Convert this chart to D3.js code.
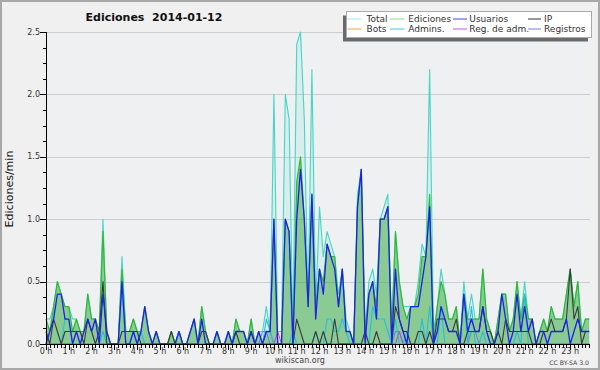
<!DOCTYPE html>
<html><head><meta charset="utf-8">
<script src="https://cdn.jsdelivr.net/npm/d3@7"></script>
<style>body{margin:0;background:#f0f0f0;} svg{display:block;font-family:"DejaVu Sans",sans-serif;}</style>
</head><body><svg id="c" width="600" height="370"></svg>
<script>
const hourLabels = ["0 h","1 h","2 h","3 h","4 h","5 h","6 h","7 h","8 h","9 h","10 h","11 h","12 h","13 h","14 h","15 h","16 h","17 h","18 h","19 h","20 h","21 h","22 h","23 h"];
const yTicks = [0, 0.5, 1, 1.5, 2, 2.5];
const seriesNames = ["Total","Ediciones","Usuarios","IP","Bots","Admins.","Reg. de adm.","Registros"];

// one value per 10 minutes (edits/min)
const total = [
 .2,.2,.3,.5,.4,.3,.3,.2,.2,.1,.1,.4,
 .2,.2,.1,1.0,.1,0,0,0,.7,.1,.1,.2,
 .1,.1,.3,.1,0,.1,0,0,0,.1,0,.1,
 0,0,.1,.2,0,.3,.1,0,0,.1,0,0,
 .1,0,.2,.1,.1,0,.2,0,.1,.1,.3,.1,
 2.0,.1,.1,2.0,1.8,.1,2.4,2.5,1.8,.3,2.2,.3,
 1.1,.7,.9,.8,.7,.4,.6,.2,.1,0,1.2,1.4,
 .1,.5,.6,.4,1.0,1.1,1.2,.1,.9,.5,.3,.3,
 .3,.3,.5,.8,.7,2.2,.1,.3,.6,.4,.2,.2,
 .3,0,.5,.2,.4,.2,.2,.6,.2,.1,0,.2,
 .4,.4,.1,.2,.5,.2,.5,.2,.2,0,.1,.2,
 .1,.3,.2,.2,.2,.4,.6,.3,.5,.1,.2,.2];
const ediciones = [
 .2,.1,.3,.5,.4,.3,.3,.1,.2,.1,.1,.4,
 .2,.2,.1,.9,.1,0,0,0,.6,.1,.1,.2,
 .1,.1,.3,.1,0,.1,0,0,0,.1,0,.1,
 0,0,.1,.2,0,.3,.1,0,0,.1,0,0,
 .1,0,.2,.1,.1,0,.2,0,.1,0,.1,.1,
 1.0,0,0,1.0,.9,0,1.3,1.5,1.0,.3,1.2,.3,
 .6,.5,.8,.7,.7,.3,.6,.1,.1,0,1.1,1.4,
 .1,.4,.5,.3,1.0,1.0,1.1,.1,.9,.5,.3,.2,
 .3,.3,.4,.7,.7,1.2,0,.3,.5,.4,.2,.2,
 .3,0,.4,.2,.2,.2,.2,.6,.2,.1,0,.2,
 .4,.4,.1,.2,.5,.2,.4,.2,.2,0,.1,.2,
 .1,.3,.2,.2,.2,.4,.6,.3,.5,.1,.2,.2];
const usuarios = [
 0,.1,.2,.4,.4,.2,.2,0,.1,0,.1,.2,
 .1,.2,0,.4,.1,0,0,0,.5,0,0,.1,
 0,.1,.3,.1,0,.1,0,0,0,0,0,.1,
 0,0,.1,.2,0,.2,0,0,0,.1,0,0,
 .1,0,.1,.1,.1,0,.1,0,.1,0,.1,.1,
 1.0,0,0,1.0,.9,0,1.0,1.4,1.0,.3,1.2,.2,
 .6,.4,.8,.7,.6,.3,.6,.1,.1,0,1.1,1.4,
 0,.4,.5,.2,1.0,1.0,1.1,0,.6,.2,.1,0,
 .3,.3,.3,.5,.7,1.1,0,.1,.3,.2,.1,.1,
 .1,0,.4,.1,.2,.1,.1,.3,.1,0,0,.1,
 .4,.2,0,.1,.4,.1,.3,.1,.2,0,.1,.1,
 0,.1,.1,.1,.1,.2,0,.1,.2,.1,.1,.1];
const ip = [
 .1,0,.2,.1,0,.1,.1,.1,.1,.1,0,.2,
 .1,0,.1,.5,0,0,0,0,.1,.1,.1,.1,
 .1,0,0,0,0,0,0,0,0,.1,0,0,
 0,0,0,0,0,.1,.1,0,0,0,0,0,
 0,0,.1,0,0,0,.1,0,0,0,0,0,
 0,0,0,0,0,0,.2,.1,0,0,0,.1,
 0,.1,0,0,.2,0,0,0,0,0,0,0,
 .1,0,0,.1,0,0,0,0,.3,.2,.1,.1,
 0,0,.1,.1,0,.1,0,.2,.2,.2,.1,.1,
 .2,0,0,.1,.1,.1,.1,.3,.1,.1,0,.1,
 0,.2,.1,.1,.1,.1,.1,.1,0,0,0,.1,
 .1,.2,.1,.1,.1,.2,.6,.2,.3,0,.1,.1];
const bots = [
 0,0,0,0,0,0,0,0,0,0,0,0,
 0,0,0,0,0,0,0,0,0,0,0,0,
 0,0,0,0,0,0,0,0,0,0,0,0,
 0,0,0,0,0,0,0,0,0,0,0,0,
 0,0,0,0,0,0,0,0,0,0,0,0,
 0,0,0,0,0,0,0,0,0,0,0,0,
 0,0,0,0,0,0,0,0,0,0,0,0,
 0,0,0,0,0,0,0,0,0,0,0,0,
 0,0,0,0,0,0,0,0,0,0,0,0,
 0,0,0,0,0,0,0,0,0,0,0,0,
 0,0,0,0,0,0,0,0,0,0,0,0,
 0,0,0,0,0,0,0,0,0,0,0,0];
const admins = [
 .1,0,0,0,0,.2,.2,0,0,0,0,0,
 0,0,0,.1,0,0,0,0,.5,0,0,.1,
 0,.1,0,0,0,0,0,0,0,0,0,.1,
 0,0,0,0,0,0,0,0,0,0,0,0,
 0,0,0,0,0,0,0,0,0,0,.2,.1,
 0,0,0,0,0,.1,0,0,0,0,0,.1,
 0,0,.2,.2,.1,.1,.2,.1,0,0,0,0,
 0,0,.3,.2,.2,.2,.1,0,.2,0,0,.1,
 0,0,0,.2,0,.3,0,0,.3,0,0,0,
 0,0,.4,0,.3,0,0,.1,0,0,0,0,
 0,0,0,0,.1,0,.4,0,0,0,0,0,
 0,0,0,0,0,0,0,0,0,0,0,0];
const regAdm = [
 0,0,0,0,0,0,0,0,0,0,0,0,
 0,0,0,0,0,0,0,0,0,0,0,0,
 0,0,0,0,0,0,0,0,0,0,0,0,
 0,0,0,0,0,0,0,0,0,0,0,0,
 0,0,0,0,0,0,0,0,0,0,.1,.1,
 0,.1,0,0,0,0,0,0,0,0,0,0,
 0,0,0,0,0,0,0,0,0,0,0,0,
 0,0,0,0,0,0,0,0,0,.1,0,0,
 0,0,0,0,0,0,0,0,0,0,0,0,
 0,0,0,0,0,0,0,0,0,0,0,0,
 0,0,0,0,0,0,0,0,0,0,0,0,
 0,0,0,0,0,0,0,0,0,0,0,0];
const registros = [
 0,0,0,0,0,0,0,0,0,0,0,0,
 0,0,0,0,0,0,0,0,0,0,0,0,
 0,0,0,0,0,0,0,0,0,0,0,0,
 0,0,0,0,0,0,0,0,0,0,0,0,
 0,0,0,0,0,0,0,0,0,.1,.1,0,
 0,0,0,0,0,0,0,0,0,0,0,0,
 0,0,0,0,0,0,0,0,0,0,0,0,
 0,0,0,0,0,0,0,0,.1,.1,0,0,
 0,0,0,0,0,0,0,0,0,0,0,0,
 0,0,0,0,.1,.1,0,0,0,0,0,0,
 0,0,0,0,0,0,0,0,0,0,0,0,
 0,0,0,0,0,0,0,0,0,0,0,0];

const colors = {
  "Total":"#45d6c6","Ediciones":"#33b833","Usuarios":"#2020e8","IP":"#3a3a3a",
  "Bots":"#f39a2e","Admins.":"#25bfdc","Reg. de adm.":"#c840d8","Registros":"#7474f4"
};
const legendColors = {
  "Total":"#a6e6e0","Ediciones":"#8fd68f","Usuarios":"#4545e0","IP":"#333333",
  "Bots":"#f5a040","Admins.":"#40c8e0","Reg. de adm.":"#d050e0","Registros":"#7a7af0"
};

const svg = d3.select("#c");
svg.append("rect").attr("x",1).attr("y",1).attr("width",598).attr("height",368)
  .attr("fill","#f0f0f0").attr("stroke","#a8a8a8").attr("stroke-width",2);
svg.append("rect").attr("x",46).attr("y",32).attr("width",543).attr("height",312).attr("fill","#eef0f2");

const nPts = total.length;
const hx = d3.scaleLinear().domain([0,(nPts-1)/6]).range([46,589.2]);
const x = i => hx(i/6);
const y = d3.scaleLinear().domain([0,2.5]).range([344,32]);

// grid
svg.append("g").selectAll("line").data(yTicks.filter(d=>d>0)).join("line")
  .attr("x1",46).attr("x2",590).attr("y1",d=>Math.round(y(d))+0.5).attr("y2",d=>Math.round(y(d))+0.5)
  .attr("stroke","#cdcdcd").attr("stroke-width",1);

const area = d3.area().x((d,i)=>x(i)).y0(y(0)).y1(d=>y(d));
const line = d3.line().x((d,i)=>x(i)).y(d=>y(d));

svg.append("path").datum(total).attr("d",area).attr("fill","#45d6c6").attr("fill-opacity",0.13);
svg.append("path").datum(ediciones).attr("d",area).attr("fill","#34a534").attr("fill-opacity",0.48);

const draw = [
  ["Bots",bots,1],["Total",total,1.1],["Ediciones",ediciones,1.2],["Registros",registros,1],
  ["Reg. de adm.",regAdm,1],["Admins.",admins,1.1],["IP",ip,1.1],["Usuarios",usuarios,1.3]
];
draw.forEach(([name,vals,w])=>{
  svg.append("path").datum(vals).attr("d",line).attr("fill","none")
    .attr("stroke",colors[name]).attr("stroke-width",w).attr("stroke-linejoin","round");
});

// axes
const ax = svg.append("g").attr("stroke","#000").attr("shape-rendering","crispEdges");
ax.append("line").attr("x1",46.5).attr("x2",46.5).attr("y1",32).attr("y2",344.5);
ax.append("line").attr("x1",46).attr("x2",590).attr("y1",344.5).attr("y2",344.5);
// y ticks
const yMinor = d3.range(0, 2.5001, 0.125);
ax.selectAll(".ym").data(yMinor).join("line")
  .attr("x1",d=> (Math.abs(d*2-Math.round(d*2))<1e-6)?40:43).attr("x2",46)
  .attr("y1",d=>Math.round(y(d))+0.5).attr("y2",d=>Math.round(y(d))+0.5);
svg.append("g").selectAll("text").data(yTicks).join("text")
  .attr("x",40).attr("y",d=>y(d)).attr("dy","0.33em").attr("text-anchor","end")
  .attr("font-size",8).attr("fill","#333").text(d=>d3.format(".1f")(d));
// x ticks
const xMinor = d3.range(nPts);
ax.selectAll(".xm").data(xMinor).join("line")
  .attr("x1",i=>Math.round(x(i))+0.5).attr("x2",i=>Math.round(x(i))+0.5)
  .attr("y1",344.5).attr("y2",i=> i%6===0 ? 350 : 348);
svg.append("g").selectAll("text").data(hourLabels).join("text")
  .attr("x",(d,i)=>hx(i)).attr("y",353.5).attr("text-anchor","middle")
  .attr("font-size",8).attr("fill","#333").text(d=>d);

// titles
svg.append("text").attr("x",154).attr("y",21).attr("text-anchor","middle")
  .attr("font-size",11).attr("font-weight","bold").attr("fill","#111")
  .attr("xml:space","preserve").style("white-space","pre").text("Ediciones  2014-01-12");
svg.append("text").attr("transform","translate(13,189) rotate(-90)").attr("text-anchor","middle")
  .attr("font-size",11).attr("fill","#111").text("Ediciones/min");
svg.append("text").attr("x",300).attr("y",363).attr("text-anchor","middle")
  .attr("font-size",8).attr("fill","#444").text("wikiscan.org");
svg.append("text").attr("x",589).attr("y",364.5).attr("text-anchor","end")
  .attr("font-size",6.2).attr("fill","#444").text("CC BY-SA 3.0");

// legend
const lg = svg.append("g");
lg.append("rect").attr("x",343).attr("y",15.5).attr("width",245).attr("height",26).attr("fill","#6a6a6a");
lg.append("rect").attr("x",346.5).attr("y",11.5).attr("width",245).attr("height",26)
  .attr("fill","#fff").attr("stroke","#aaa").attr("stroke-width",1);
const colLine = [[347.5,361.5],[390,404.5],[453,467],[528,541]];
const colText = [366.5,408.3,469.3,544];
seriesNames.forEach((name,k)=>{
  const r = Math.floor(k/4), c = k%4;
  const ly = 19 + r*10;
  lg.append("line").attr("x1",colLine[c][0]).attr("x2",colLine[c][1]).attr("y1",ly).attr("y2",ly)
    .attr("stroke",legendColors[name]).attr("stroke-width",1);
  lg.append("text").attr("x",colText[c]).attr("y",22.3+r*10).attr("font-size",9).attr("fill","#333").text(name);
});
</script></body></html>
